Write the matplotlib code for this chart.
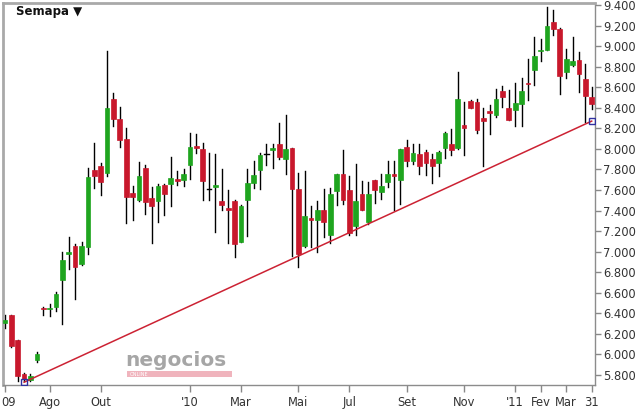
import matplotlib
matplotlib.use("Agg")
import matplotlib.pyplot as plt
import matplotlib.transforms as mtransforms
from matplotlib.patches import Rectangle

# weekly candles, Semapa, Jun 2009 - Mar 2011
opens = [6.31, 6.38, 6.14, 5.81, 5.75, 5.95, 6.45, 6.44, 6.46, 6.72,
         6.98, 7.06, 6.88, 7.05, 7.79, 7.83, 7.77, 8.49, 8.29, 8.10,
         7.57, 7.50, 7.81, 7.52, 7.49, 7.65, 7.66, 7.70, 7.70, 7.84,
         8.02, 8.00, 7.61, 7.63, 7.49, 7.42, 7.49, 7.09, 7.50, 7.67,
         7.79, 7.95, 7.99, 8.05, 7.90, 8.01, 7.61, 7.06, 7.32, 7.31,
         7.41, 7.16, 7.59, 7.76, 7.60, 7.25, 7.56, 7.29, 7.70, 7.58,
         7.68, 7.75, 7.70, 8.02, 7.88, 7.95, 7.97, 7.90, 7.86, 8.01,
         8.05, 8.01, 8.23, 8.47, 8.46, 8.30, 8.36, 8.33, 8.56, 8.40,
         8.38, 8.44, 8.64, 8.77, 8.95, 8.96, 9.23, 9.17, 8.75, 8.82,
         8.86, 8.68, 8.50]
highs = [6.38, 6.38, 6.14, 5.82, 5.81, 6.02, 6.46, 6.49, 6.61, 7.00,
         7.14, 7.07, 7.09, 7.81, 8.06, 7.86, 8.95, 8.54, 8.41, 8.20,
         7.64, 7.87, 7.84, 7.63, 7.66, 7.66, 7.92, 7.78, 7.80, 8.15,
         8.14, 8.06, 7.96, 7.95, 7.80, 7.60, 7.50, 7.45, 7.80, 7.88,
         7.96, 8.05, 8.05, 8.25, 8.33, 8.01, 7.77, 7.78, 7.44, 7.49,
         7.61, 7.62, 7.76, 7.99, 7.74, 7.85, 7.69, 7.68, 7.70, 7.76,
         7.88, 7.88, 8.00, 8.09, 8.05, 8.05, 7.99, 7.95, 7.98, 8.16,
         8.19, 8.75, 8.46, 8.48, 8.49, 8.40, 8.43, 8.58, 8.61, 8.57,
         8.64, 8.69, 8.87, 9.09, 9.07, 9.38, 9.35, 9.18, 8.97, 9.09,
         8.94, 8.83, 8.60]
lows = [6.26, 6.07, 5.74, 5.74, 5.74, 5.93, 6.38, 6.37, 6.42, 6.30,
        6.83, 6.54, 6.87, 6.98, 7.62, 7.55, 7.74, 8.22, 8.02, 7.28,
        7.31, 7.49, 7.37, 7.08, 7.29, 7.36, 7.44, 7.65, 7.64, 7.71,
        7.96, 7.50, 7.50, 7.19, 7.41, 7.08, 6.95, 7.09, 7.15, 7.62,
        7.61, 7.84, 7.81, 7.90, 7.76, 6.96, 6.85, 7.05, 7.05, 7.00,
        7.14, 7.08, 7.45, 7.46, 7.16, 7.16, 7.41, 7.27, 7.47, 7.51,
        7.63, 7.41, 7.46, 7.83, 7.85, 7.76, 7.75, 7.67, 7.74, 7.91,
        7.94, 8.00, 7.94, 8.40, 8.15, 7.83, 8.14, 8.31, 8.41, 8.28,
        8.22, 8.22, 8.48, 8.62, 8.85, 8.96, 9.11, 8.53, 8.69, 8.81,
        8.55, 8.26, 8.39]
closes = [6.34, 6.08, 5.79, 5.76, 5.79, 6.00, 6.44, 6.45, 6.59, 6.92,
          7.00, 6.85, 7.06, 7.73, 7.74, 7.68, 8.40, 8.29, 8.09, 7.53,
          7.53, 7.74, 7.48, 7.44, 7.64, 7.56, 7.72, 7.69, 7.76, 8.02,
          8.01, 7.69, 7.61, 7.64, 7.45, 7.41, 7.07, 7.44, 7.67, 7.75,
          7.94, 7.95, 8.00, 7.92, 8.00, 7.61, 6.98, 7.35, 7.31, 7.41,
          7.29, 7.56, 7.76, 7.50, 7.18, 7.49, 7.41, 7.56, 7.60, 7.64,
          7.76, 7.74, 8.00, 7.88, 7.96, 7.83, 7.86, 7.83, 7.97, 8.15,
          7.99, 8.49, 8.20, 8.40, 8.18, 8.27, 8.35, 8.49, 8.50, 8.28,
          8.45, 8.56, 8.63, 8.90, 8.96, 9.20, 9.17, 8.71, 8.87, 8.85,
          8.73, 8.51, 8.44]

tick_weeks = [0, 7, 15, 29, 37, 46, 54, 63, 72, 80, 84, 88, 92]
tick_labels = ["09", "Ago", "Out", "'10", "Mar", "Mai", "Jul", "Set",
               "Nov", "'11", "Fev", "Mar", "31"]
price_ticks = [5.8, 6.0, 6.2, 6.4, 6.6, 6.8, 7.0, 7.2, 7.4, 7.6, 7.8,
               8.0, 8.2, 8.4, 8.6, 8.8, 9.0, 9.2, 9.4]

# support line (start/end week, price)
trend_weeks = [3, 92]
trend_prices = [5.73, 8.27]

GREEN = "#1fa51f"
RED = "#c8182c"

W, H = 636, 409
fig = plt.figure(figsize=(W / 100, H / 100), dpi=100)
ax = fig.add_axes([3 / W, (H - 385) / H, 592 / W, 382 / H])

for i in range(len(opens)):
    o, h, l, c = opens[i], highs[i], lows[i], closes[i]
    ax.plot([i, i], [l, h], color="black", lw=1, zorder=2)
    if o == c:
        ax.plot([i - 0.35, i + 0.35], [o, o], color="black", lw=1, zorder=3)
        continue
    col = GREEN if c > o else RED
    bottom = min(o, c)
    height = max(abs(c - o), 0.015)
    ax.add_patch(Rectangle((i - 0.37, bottom), 0.74, height,
                           facecolor=col, edgecolor=col, lw=0.5, zorder=3))

ax.plot(trend_weeks, trend_prices, color="#cc2233", lw=1.1, zorder=4)
ax.plot(trend_weeks, trend_prices, ls="none", marker="s", ms=4,
        mfc="none", mec="#3030a0", mew=1, zorder=5)

ax.set_xlim(-0.31, 92.52)
ax.set_ylim(5.703, 9.419)

ax.yaxis.tick_right()
ax.set_yticks(price_ticks)
ax.set_yticklabels([f"{p:.3f}" for p in price_ticks])
ax.set_xticks(tick_weeks)
ax.set_xticklabels(tick_labels)
ax.tick_params(axis="y", direction="out", length=4, width=1, color="#888888",
               labelsize=8.3, labelcolor="#333333", pad=2)
ax.tick_params(axis="x", direction="out", length=5, width=1, color="#888888",
               labelsize=8.3, labelcolor="#333333", pad=3)

# first label sits against the left edge
first = ax.get_xticklabels()[0]
first.set_horizontalalignment("left")
first.set_transform(first.get_transform() +
                    mtransforms.ScaledTranslation(-0.04, 0, fig.dpi_scale_trans))

for s in ("top", "left"):
    ax.spines[s].set_color("#a9a9a9")
    ax.spines[s].set_linewidth(2)
for s in ("right", "bottom"):
    ax.spines[s].set_color("#8c8c8c")
    ax.spines[s].set_linewidth(1)

fig.text(16 / W, 1 - 12 / H, "Semapa \u25bc", fontsize=8.5, fontweight="bold",
         color="#111111", va="center", ha="left")

# watermark
fig.patches.append(Rectangle((127 / W, 1 - 377 / H), 105 / W, 6 / H,
                             transform=fig.transFigure, facecolor="#f0b4bd",
                             edgecolor="none", zorder=1))
fig.text(130 / W, 1 - 374 / H, "ONLINE", fontsize=3.5, color="white",
         ha="left", va="center")
fig.text(176 / W, 1 - 361 / H, "negocios", fontsize=14.5, fontweight="bold",
         color="#a6a6a6", ha="center", va="center")

fig.savefig("out.png", dpi=100, facecolor="white")
